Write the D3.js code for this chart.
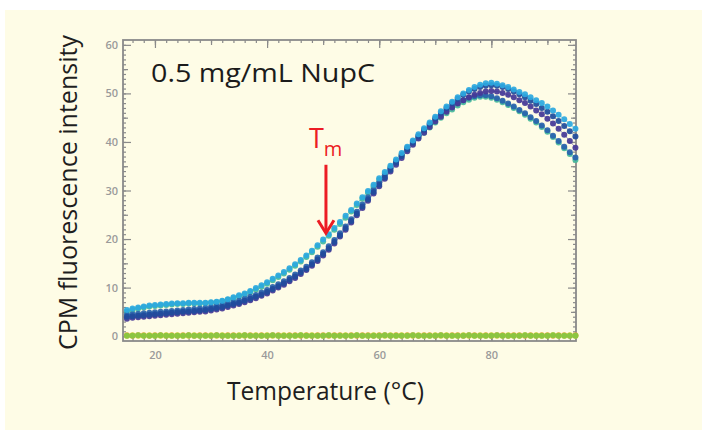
<!DOCTYPE html>
<html>
<head>
<meta charset="utf-8">
<script src="https://cdn.jsdelivr.net/npm/d3@7"></script>
<style>
  html, body { margin: 0; padding: 0; background: #ffffff; }
  svg { display: block; }
  text { font-family: "Open Sans", "DejaVu Sans", sans-serif; }
</style>
</head>
<body>
<svg id="chart" width="702" height="430"></svg>
<script>
// ---------------- data ----------------
const temps = [15,16,17,18,19,20,21,22,23,24,25,26,27,28,29,30,31,32,33,34,35,36,37,38,39,40,41,42,43,44,45,46,47,48,49,50,51,52,53,54,55,56,57,58,59,60,61,62,63,64,65,66,67,68,69,70,71,72,73,74,75,76,77,78,79,80,81,82,83,84,85,86,87,88,89,90,91,92,93,94,95];

const seriesCyan = [5.4,5.7,5.9,6.1,6.3,6.4,6.5,6.6,6.7,6.8,6.8,6.9,6.9,6.9,6.9,7.0,7.1,7.3,7.6,8.0,8.4,8.8,9.3,9.9,10.5,11.1,11.8,12.5,13.2,14.0,14.8,15.7,16.6,17.6,18.7,19.9,21.0,22.3,23.5,24.8,26.0,27.3,28.6,29.9,31.2,32.5,33.8,35.1,36.4,37.7,39.0,40.3,41.6,42.8,44.0,45.2,46.3,47.3,48.3,49.2,50.0,50.7,51.3,51.8,52.1,52.2,52.0,51.7,51.3,50.8,50.3,49.8,49.2,48.6,48.0,47.3,46.5,45.6,44.7,43.7,42.7];

const seriesGreen = [5.0,5.4,5.7,5.9,6.1,6.2,6.3,6.4,6.5,6.6,6.6,6.7,6.7,6.7,6.8,6.9,7.0,7.2,7.5,7.8,8.2,8.6,9.1,9.6,10.2,10.8,11.5,12.2,12.9,13.7,14.5,15.4,16.3,17.3,18.4,19.5,20.7,21.9,23.1,24.4,25.7,27.0,28.3,29.6,30.9,32.2,33.5,34.8,36.0,37.2,38.4,39.6,40.8,41.9,43.0,44.0,45.0,45.9,46.7,47.5,48.2,48.7,49.1,49.3,49.3,49.1,48.7,48.2,47.6,47.0,46.3,45.6,44.8,44.0,43.1,42.1,41.0,39.9,38.7,37.5,36.3];

const seriesBlue = [4.0,4.1,4.2,4.3,4.4,4.5,4.6,4.7,4.8,4.9,5.0,5.1,5.2,5.3,5.4,5.6,5.8,6.0,6.3,6.6,6.9,7.3,7.7,8.1,8.6,9.1,9.7,10.3,10.9,11.6,12.3,13.1,13.9,14.8,15.8,16.9,18.1,19.4,20.8,22.2,23.7,25.2,26.7,28.2,29.7,31.2,32.7,34.2,35.7,37.1,38.5,39.9,41.2,42.5,43.7,44.9,46.0,47.0,48.0,48.9,49.7,50.4,50.9,51.3,51.6,51.7,51.6,51.3,50.9,50.4,49.8,49.2,48.5,47.8,47.0,46.2,45.3,44.3,43.3,42.2,41.1];

const seriesIndigo = [3.6,3.8,3.9,4.0,4.1,4.2,4.3,4.4,4.5,4.6,4.7,4.8,4.9,5.0,5.1,5.3,5.5,5.7,6.0,6.3,6.6,7.0,7.4,7.8,8.3,8.8,9.4,10.0,10.6,11.3,12.0,12.8,13.6,14.5,15.5,16.6,17.8,19.1,20.5,21.9,23.4,24.9,26.4,27.9,29.4,30.9,32.4,33.9,35.3,36.7,38.1,39.4,40.7,41.9,43.1,44.2,45.2,46.2,47.1,47.9,48.6,49.2,49.7,50.1,50.4,50.5,50.4,50.1,49.7,49.2,48.6,48.0,47.3,46.5,45.7,44.8,43.8,42.7,41.5,40.2,38.8];

const seriesBlue2 = [4.4,4.5,4.6,4.7,4.8,4.9,5.0,5.1,5.2,5.3,5.4,5.5,5.6,5.7,5.8,6.0,6.2,6.4,6.7,7.0,7.3,7.7,8.1,8.5,9.0,9.5,10.1,10.7,11.3,12.0,12.7,13.5,14.3,15.2,16.2,17.3,18.5,19.8,21.2,22.6,24.1,25.6,27.1,28.6,30.1,31.6,33.1,34.6,36.0,37.4,38.8,40.1,41.3,42.5,43.6,44.6,45.6,46.5,47.3,48.0,48.6,49.1,49.4,49.6,49.6,49.4,49.0,48.5,47.9,47.3,46.6,45.9,45.1,44.3,43.4,42.4,41.3,40.2,39.0,37.9,36.8];

const zeroOrange = [0.2,0.1,0.2,0.2,0.1,0.2,0.2,0.1,0.2,0.1,0.2,0.2,0.1,0.2,0.2,0.1,0.2,0.1,0.2,0.2,0.1,0.2,0.2,0.1,0.2,0.1,0.2,0.2,0.1,0.2,0.2,0.1,0.2,0.1,0.2,0.2,0.1,0.2,0.2,0.1,0.2,0.1,0.2,0.2,0.1,0.2,0.2,0.1,0.2,0.1,0.2,0.2,0.1,0.2,0.2,0.1,0.2,0.1,0.2,0.2,0.1,0.2,0.2,0.1,0.2,0.1,0.2,0.2,0.1,0.2,0.2,0.1,0.2,0.1,0.2,0.2,0.1,0.2,0.2,0.1,0.2];
const zeroYellow = [0.1,0.2,0.1,0.1,0.2,0.1,0.1,0.2,0.1,0.2,0.1,0.1,0.2,0.1,0.1,0.2,0.1,0.2,0.1,0.1,0.2,0.1,0.1,0.2,0.1,0.2,0.1,0.1,0.2,0.1,0.1,0.2,0.1,0.2,0.1,0.1,0.2,0.1,0.1,0.2,0.1,0.2,0.1,0.1,0.2,0.1,0.1,0.2,0.1,0.2,0.1,0.1,0.2,0.1,0.1,0.2,0.1,0.2,0.1,0.1,0.2,0.1,0.1,0.2,0.1,0.2,0.1,0.1,0.2,0.1,0.1,0.2,0.1,0.2,0.1,0.1,0.2,0.1,0.1,0.2,0.1];
const zeroGreen = [0.1,0.1,0.2,0.1,0.1,0.1,0.2,0.1,0.1,0.1,0.1,0.2,0.1,0.1,0.1,0.1,0.2,0.1,0.1,0.1,0.1,0.2,0.1,0.1,0.1,0.1,0.2,0.1,0.1,0.1,0.1,0.2,0.1,0.1,0.1,0.1,0.2,0.1,0.1,0.1,0.1,0.2,0.1,0.1,0.1,0.1,0.2,0.1,0.1,0.1,0.1,0.2,0.1,0.1,0.1,0.1,0.2,0.1,0.1,0.1,0.1,0.2,0.1,0.1,0.1,0.1,0.2,0.1,0.1,0.1,0.1,0.2,0.1,0.1,0.1,0.1,0.2,0.1,0.1,0.1,0.1];

const xMajorLabels = [20, 40, 60, 80];
const yMajorLabels = [0, 10, 20, 30, 40, 50, 60];
const titleText = "0.5 mg/mL NupC";
const xTitle = "Temperature (°C)";
const yTitle = "CPM fluorescence intensity";
const tmValue = 50.5;          // temperature marked by the arrow
const tmArrowRange = [35.3, 21.2]; // arrow runs between these intensities

// drawing order: bottom first
const seriesList = [
  { values: zeroOrange, color: "#eda23c" },
  { values: zeroYellow, color: "#d9d23e" },
  { values: zeroGreen,  color: "#86c441" },
  { values: seriesGreen, color: "#46bb9c" },
  { values: seriesBlue2, color: "#2862ad" },
  { values: seriesIndigo, color: "#453897" },
  { values: seriesBlue, color: "#1f4c9c" },
  { values: seriesCyan, color: "#2ba8df" }
];

// ---------------- drawing ----------------
const svg = d3.select("#chart");

svg.append("rect").attr("x", 5).attr("y", 10).attr("width", 697).attr("height", 420)
  .attr("fill", "#fefce6");

const x = d3.scaleLinear().domain([14.3, 95.1]).range([123, 576]);
const y = d3.scaleLinear().domain([-1, 61]).range([341, 40]);

const frameColor = "#8a8a8a";
const [x0, x1] = x.range();
const [y0, y1] = y.range();

function styleAxis(g) {
  g.select(".domain").remove();
  g.selectAll(".tick line").attr("stroke", frameColor).attr("stroke-width", 1.2);
  g.selectAll(".tick text").attr("fill", "#9a9a9a").attr("font-size", 11).attr("font-weight", 600)
    .attr("font-family", "'Open Sans', sans-serif");
}

const xMinor = d3.range(16, 95, 2);
const xMid = d3.range(20, 95, 10);
const yMinor = d3.range(0, 61, 1);
const yMid = d3.range(5, 61, 10);

// bottom
svg.append("g").attr("transform", `translate(0,${y0})`)
  .call(d3.axisBottom(x).tickValues(xMinor).tickSize(-3).tickFormat("")).call(styleAxis);
svg.append("g").attr("transform", `translate(0,${y0})`)
  .call(d3.axisBottom(x).tickValues(xMid).tickSize(-5).tickFormat("")).call(styleAxis);
svg.append("g").attr("transform", `translate(0,${y0})`)
  .call(d3.axisBottom(x).tickValues(xMajorLabels).tickSize(-8).tickPadding(10).tickFormat(d3.format("d"))).call(styleAxis);
// top
svg.append("g").attr("transform", `translate(0,${y1})`)
  .call(d3.axisTop(x).tickValues(xMinor).tickSize(-3).tickFormat("")).call(styleAxis);
svg.append("g").attr("transform", `translate(0,${y1})`)
  .call(d3.axisTop(x).tickValues(xMid).tickSize(-5).tickFormat("")).call(styleAxis);
svg.append("g").attr("transform", `translate(0,${y1})`)
  .call(d3.axisTop(x).tickValues(xMajorLabels).tickSize(-8).tickFormat("")).call(styleAxis);
// left
svg.append("g").attr("transform", `translate(${x0},0)`)
  .call(d3.axisLeft(y).tickValues(yMinor).tickSize(-3).tickFormat("")).call(styleAxis);
svg.append("g").attr("transform", `translate(${x0},0)`)
  .call(d3.axisLeft(y).tickValues(yMid).tickSize(-5).tickFormat("")).call(styleAxis);
svg.append("g").attr("transform", `translate(${x0},0)`)
  .call(d3.axisLeft(y).tickValues(yMajorLabels).tickSize(-8).tickPadding(5).tickFormat(d3.format("d"))).call(styleAxis);
// right
svg.append("g").attr("transform", `translate(${x1},0)`)
  .call(d3.axisRight(y).tickValues(yMinor).tickSize(-3).tickFormat("")).call(styleAxis);
svg.append("g").attr("transform", `translate(${x1},0)`)
  .call(d3.axisRight(y).tickValues(yMid).tickSize(-5).tickFormat("")).call(styleAxis);
svg.append("g").attr("transform", `translate(${x1},0)`)
  .call(d3.axisRight(y).tickValues(yMajorLabels).tickSize(-8).tickFormat("")).call(styleAxis);

// frame
svg.append("rect").attr("x", x0).attr("y", y1).attr("width", x1 - x0).attr("height", y0 - y1)
  .attr("fill", "none").attr("stroke", frameColor).attr("stroke-width", 1.8);

// series
const line = d3.line().x((d, i) => x(temps[i])).y(d => y(d));
const plot = svg.append("g");
seriesList.forEach(s => {
  plot.append("path").datum(s.values).attr("d", line)
    .attr("fill", "none").attr("stroke", s.color).attr("stroke-width", 1).attr("opacity", 0.55);
});
seriesList.forEach(s => {
  plot.append("g").selectAll("circle").data(s.values).join("circle")
    .attr("cx", (d, i) => x(temps[i])).attr("cy", d => y(d)).attr("r", 3)
    .attr("fill", s.color).attr("opacity", 0.92);
});

// title inside plot
svg.append("text").attr("x", 151).attr("y", 82).attr("font-size", 26).attr("fill", "#1b1b1b")
  .attr("textLength", 224).attr("lengthAdjust", "spacingAndGlyphs").text(titleText);

// axis titles
svg.append("text").attr("x", 325.5).attr("y", 400).attr("text-anchor", "middle")
  .attr("font-size", 25).attr("fill", "#1e1e1e").attr("textLength", 197)
  .attr("lengthAdjust", "spacingAndGlyphs").text(xTitle);
svg.append("text").attr("transform", "translate(77,192.5) rotate(-90)").attr("text-anchor", "middle")
  .attr("font-size", 25).attr("fill", "#1e1e1e").attr("textLength", 315)
  .attr("lengthAdjust", "spacingAndGlyphs").text(yTitle);

// Tm annotation
const red = "#ec1c24";
const ax = x(tmValue);
const aTop = y(tmArrowRange[0]);
const aTip = y(tmArrowRange[1]);
svg.append("line").attr("x1", ax).attr("x2", ax).attr("y1", aTop).attr("y2", aTip - 2)
  .attr("stroke", red).attr("stroke-width", 3);
svg.append("path")
  .attr("d", `M${ax - 8},${aTip - 13} L${ax},${aTip} L${ax + 8},${aTip - 13}`)
  .attr("fill", "none").attr("stroke", red).attr("stroke-width", 3).attr("stroke-linejoin", "miter");
const tm = svg.append("text").attr("x", ax - 17).attr("y", aTop - 17).attr("fill", red).attr("font-size", 27);
tm.append("tspan").text("T");
tm.append("tspan").attr("font-size", 20).attr("dy", 8).text("m");
</script>
</body>
</html>
